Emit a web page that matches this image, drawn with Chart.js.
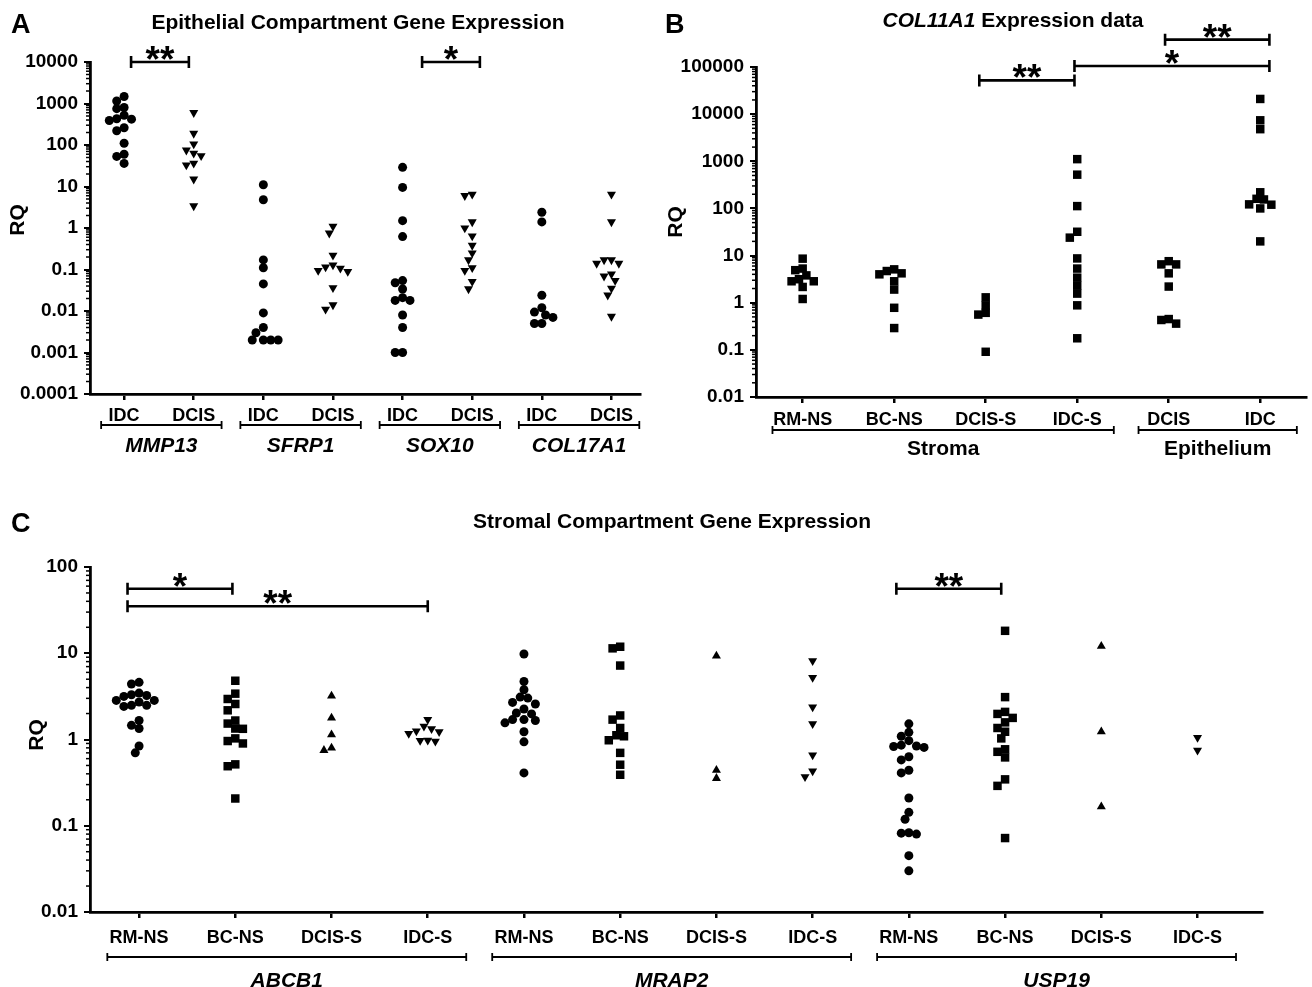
<!DOCTYPE html>
<html lang="en">
<head>
<meta charset="UTF-8">
<title>Gene expression RQ</title>
<script src="https://cdn.jsdelivr.net/npm/chart.js"></script>
<style>
  body { margin: 0; background: #fff; }
  canvas { position: absolute; }
</style>
</head>
<body>
<canvas id="chartA" style="left:0;top:0" width="650" height="490"></canvas>
<canvas id="chartB" style="left:650px;top:0" width="662" height="490"></canvas>
<canvas id="chartC" style="left:0;top:495px" width="1312" height="492"></canvas>
<script>
  // ---- panel A: epithelial compartment ----
  const aCats = ['IDC', 'DCIS', 'IDC', 'DCIS', 'IDC', 'DCIS', 'IDC', 'DCIS'];
  const aGenes = ['MMP13', 'SFRP1', 'SOX10', 'COL17A1'];
  const aYTicks = ['0.0001', '0.001', '0.01', '0.1', '1', '10', '100', '1000', '10000'];
  const mmp13Idc = [1470, 1150, 800, 750, 520, 430, 420, 390, 260, 220, 110, 60, 53, 36];
  const mmp13Dcis = [600, 190, 105, 75, 63, 55, 36, 33, 15, 3.4];
  const sfrp1Idc = [11, 4.8, 0.17, 0.11, 0.045, 0.009, 0.004, 0.003, 0.002, 0.002, 0.002, 0.002];
  const sfrp1Dcis = [1.1, 0.75, 0.22, 0.128, 0.114, 0.107, 0.094, 0.089, 0.036, 0.014, 0.011];
  const sox10Idc = [29, 9.5, 1.5, 0.62, 0.054, 0.048, 0.034, 0.021, 0.018, 0.018, 0.008, 0.004, 0.001, 0.001];
  const sox10Dcis = [6.5, 6.0, 1.4, 1.0, 0.64, 0.38, 0.25, 0.17, 0.11, 0.094, 0.051, 0.034];
  const col17Idc = [2.4, 1.4, 0.024, 0.012, 0.0094, 0.008, 0.007, 0.005, 0.005];
  const col17Dcis = [6.5, 1.4, 0.17, 0.17, 0.14, 0.14, 0.078, 0.069, 0.054, 0.035, 0.024, 0.0074];
  const aSig = [[0.1, 0.93, 1e4, '**'], [4.28, 5.11, 1e4, '*']];

  // ---- panel B: COL11A1 ----
  const bCats = ['RM-NS', 'BC-NS', 'DCIS-S', 'IDC-S', 'DCIS', 'IDC'];
  const bGroups = ['Stroma', 'Epithelium'];
  const bYTicks = ['0.01', '0.1', '1', '10', '100', '1000', '10000', '100000'];
  const bRmNs = [8.6, 5.3, 4.9, 3.8, 3.15, 2.85, 2.85, 2.16, 1.2];
  const bBcNs = [5.1, 4.7, 4.2, 4.0, 2.85, 1.9, 0.78, 0.29];
  const bDcisS = [1.3, 0.88, 0.61, 0.56, 0.091];
  const bIdcS = [1110, 520, 112, 32, 24, 8.7, 5.3, 3.4, 2.3, 1.56, 0.88, 0.176];
  const bDcisE = [7.6, 6.5, 6.5, 4.2, 2.2, 0.45, 0.43, 0.36];
  const bIdcE = [21000, 7400, 4800, 220, 160, 155, 122, 120, 100, 20];
  const bSig = [[1.93, 2.97, 5.2e4, '**'], [2.97, 5.1, 1.05e5, '*'], [3.96, 5.1, 3.8e5, '**']];

  // ---- panel C: stromal compartment ----
  const cCats = ['RM-NS', 'BC-NS', 'DCIS-S', 'IDC-S', 'RM-NS', 'BC-NS', 'DCIS-S', 'IDC-S', 'RM-NS', 'BC-NS', 'DCIS-S', 'IDC-S'];
  const cGenes = ['ABCB1', 'MRAP2', 'USP19'];
  const cYTicks = ['0.01', '0.1', '1', '10', '100'];
  const abcb1Rm = [4.6, 4.4, 3.45, 3.3, 3.24, 3.16, 2.84, 2.84, 2.72, 2.49, 2.49, 2.42, 1.66, 1.46, 1.34, 0.84, 0.7];
  const abcb1Bc = [4.8, 3.4, 2.95, 2.58, 2.18, 1.66, 1.53, 1.34, 1.33, 1.03, 0.96, 0.9, 0.515, 0.49, 0.207];
  const abcb1Dcis = [3.2, 1.78, 1.14, 0.8, 0.75];
  const abcb1Idc = [1.7, 1.42, 1.33, 1.25, 1.23, 1.17, 0.98, 0.97, 0.95];
  const mrap2Rm = [9.8, 4.7, 3.77, 3.1, 3.02, 2.69, 2.58, 2.26, 2.03, 1.98, 1.7, 1.7, 1.66, 1.56, 1.23, 0.94, 0.41];
  const mrap2Bc = [11.9, 11.4, 7.2, 1.9, 1.7, 1.36, 1.12, 1.09, 0.98, 0.7, 0.51, 0.39];
  const mrap2Dcis = [9.3, 0.44, 0.355];
  const mrap2Idc = [8.15, 5.23, 2.38, 1.52, 0.66, 0.43, 0.37];
  const usp19Rm = [1.52, 1.21, 1.09, 0.97, 0.86, 0.84, 0.83, 0.81, 0.63, 0.58, 0.44, 0.41, 0.21, 0.143, 0.119, 0.083, 0.082, 0.08, 0.045, 0.03];
  const usp19Bc = [18.2, 3.1, 2.09, 1.98, 1.78, 1.58, 1.36, 1.23, 1.03, 0.77, 0.72, 0.62, 0.345, 0.29, 0.072];
  const usp19Dcis = [12.1, 1.23, 0.166];
  const usp19Idc = [1.05, 0.75];
  const cSig = [[-0.12, 0.97, 56, '*'], [-0.12, 3.0, 35, '**'], [7.87, 8.96, 56, '**']];

  const FONT = "'Liberation Sans', Arial, sans-serif";
  Chart.defaults.color = '#000';
  Chart.defaults.font.family = FONT;

  const circle = {pointStyle: 'circle', pointRadius: 4.5, rotation: 0};
  const square = {pointStyle: 'rect', pointRadius: 6, rotation: 0};
  const triUp = {pointStyle: 'triangle', pointRadius: 5.2, rotation: 0};
  const triDown = {pointStyle: 'triangle', pointRadius: 5.2, rotation: 180};

  // minor ticks, brackets, stars and labels
  const decoPlugin = {
    id: 'deco',
    afterDraw(chart, args, o) {
      const ctx = chart.ctx, xs = chart.scales.x, ys = chart.scales.y, a = chart.chartArea;
      ctx.save();
      ctx.fillStyle = '#000';
      ctx.strokeStyle = '#000';
      ctx.lineWidth = 1.5;
      for (let d = ys.min; d < ys.max * 0.999; d *= 10) {
        for (let m = 2; m <= 9; m++) {
          const py = ys.getPixelForValue(d * m);
          ctx.beginPath(); ctx.moveTo(a.left - 4, py); ctx.lineTo(a.left, py); ctx.stroke();
        }
      }
      // groups under the x axis
      ctx.lineWidth = 1.8;
      ctx.textAlign = 'center';
      ctx.textBaseline = 'middle';
      o.groups.forEach(g => {
        const x1 = xs.getPixelForValue(g[1] - 0.33), x2 = xs.getPixelForValue(g[2] + 0.4);
        ctx.beginPath();
        ctx.moveTo(x1, o.groupY); ctx.lineTo(x2, o.groupY);
        ctx.moveTo(x1, o.groupY - 4); ctx.lineTo(x1, o.groupY + 4);
        ctx.moveTo(x2, o.groupY - 4); ctx.lineTo(x2, o.groupY + 4);
        ctx.stroke();
        ctx.font = (o.groupItalic ? 'italic ' : '') + 'bold 21px ' + FONT;
        ctx.fillText(g[0], (x1 + x2) / 2, o.groupLabelY);
      });
      // significance bars
      ctx.lineWidth = 2.6;
      o.sig.forEach(s => {
        const x1 = xs.getPixelForValue(s[0]), x2 = xs.getPixelForValue(s[1]);
        const py = ys.getPixelForValue(s[2]);
        ctx.beginPath();
        ctx.moveTo(x1, py); ctx.lineTo(x2, py);
        ctx.moveTo(x1, py - 6); ctx.lineTo(x1, py + 6);
        ctx.moveTo(x2, py - 6); ctx.lineTo(x2, py + 6);
        ctx.stroke();
        ctx.font = 'bold 37px ' + FONT;
        ctx.textBaseline = 'alphabetic';
        ctx.fillText(s[3], (x1 + x2) / 2, py + 10);
      });
      // panel letter
      ctx.textAlign = 'left';
      ctx.textBaseline = 'alphabetic';
      ctx.font = 'bold 27px ' + FONT;
      ctx.fillText(o.letter, o.letterX, o.letterY);
      // title (mixed italic parts)
      let total = 0;
      o.title.forEach(p => { ctx.font = (p[1] ? 'italic ' : '') + 'bold 21px ' + FONT; total += ctx.measureText(p[0]).width; });
      let tx = o.titleX - total / 2;
      o.title.forEach(p => {
        ctx.font = (p[1] ? 'italic ' : '') + 'bold 21px ' + FONT;
        ctx.fillText(p[0], tx, o.titleY);
        tx += ctx.measureText(p[0]).width;
      });
      // RQ
      ctx.translate(o.rqX, o.rqY);
      ctx.rotate(-Math.PI / 2);
      ctx.textAlign = 'center';
      ctx.textBaseline = 'middle';
      ctx.font = 'bold 21px ' + FONT;
      ctx.fillText('RQ', 0, 0);
      ctx.restore();
    }
  };

  function makePanel(p) {
    const datasets = p.sets.map((s, i) => Object.assign({
      data: s[0].map(v => ({x: i, y: v})),
      cat: i,
      backgroundColor: '#000',
      borderWidth: 0,
      pointHoverRadius: 5,
      showLine: false,
      clip: false
    }, s[1]));
    const chart = new Chart(document.getElementById(p.id), {
      type: 'scatter',
      data: {datasets},
      plugins: [decoPlugin],
      options: {
        responsive: false,
        animation: false,
        layout: {padding: {left: 0, top: p.area.top, right: p.w - p.area.right, bottom: 0}},
        plugins: {legend: {display: false}, tooltip: {enabled: false}, deco: p.deco},
        scales: {
          x: {
            type: 'linear', min: p.xMin, max: p.xMax,
            afterBuildTicks: sc => { sc.ticks = p.cats.map((c, i) => ({value: i})); },
            afterFit: sc => { sc.height = p.h - p.area.bottom; },
            ticks: {autoSkip: false, maxRotation: 0, padding: p.xPad, font: {size: 18, weight: 'bold'},
                    callback: (v, i) => p.cats[i]},
            grid: {display: true, drawOnChartArea: false, drawTicks: true, tickLength: 6, lineWidth: 2.5, color: '#000'},
            border: {display: true, color: '#000', width: 2.8}
          },
          y: {
            type: 'logarithmic', min: p.yMin, max: p.yMax,
            afterBuildTicks: sc => { sc.ticks = p.yTicks.map(t => ({value: Number(t), major: true})); },
            afterFit: sc => { sc.width = p.area.left; },
            ticks: {autoSkip: false, padding: 6, font: {size: 19, weight: 'bold'},
                    callback: (v, i) => p.yTicks[i]},
            grid: {display: true, drawOnChartArea: false, drawTicks: true, tickLength: 6, lineWidth: 2, color: '#000'},
            border: {display: true, color: '#000', width: 2.8}
          }
        }
      }
    });
    // spread points sideways like a dot plot (pixel space)
    const xs = chart.scales.x, ys = chart.scales.y;
    const unit = xs.getPixelForValue(1) - xs.getPixelForValue(0);
    chart.data.datasets.forEach(ds => {
      const pts = ds.data.map(pt => ({pt, py: ys.getPixelForValue(pt.y), dx: 0})).sort((u, w) => u.py - w.py);
      const placed = [];
      pts.forEach(q => {
        for (let k = 0; k < 60; k++) {
          const dx = (k % 2 ? -1 : 1) * Math.ceil(k / 2) * p.gap / 2;
          if (placed.every(r => Math.hypot(r.dx - dx, r.py - q.py) >= p.gap)) { q.dx = dx; break; }
        }
        placed.push(q);
        q.pt.x = ds.cat + q.dx / unit;
      });
    });
    chart.update('none');
    return chart;
  }

  makePanel({
    id: 'chartA', w: 650, h: 490,
    area: {left: 90, top: 62, right: 640, bottom: 394},
    xMin: -0.49, xMax: 7.41, yMin: 1e-4, yMax: 1e4, xPad: 5, gap: 7.4,
    cats: aCats, yTicks: aYTicks,
    sets: [[mmp13Idc, circle], [mmp13Dcis, triDown], [sfrp1Idc, circle], [sfrp1Dcis, triDown],
           [sox10Idc, circle], [sox10Dcis, triDown], [col17Idc, circle], [col17Dcis, triDown]],
    deco: {
      letter: 'A', letterX: 11, letterY: 33,
      title: [['Epithelial Compartment Gene Expression', false]], titleX: 358, titleY: 29,
      rqX: 18, rqY: 220,
      groups: aGenes.map((g, i) => [g, 2 * i, 2 * i + 1]), groupItalic: true, groupY: 425, groupLabelY: 446,
      sig: aSig
    }
  });

  makePanel({
    id: 'chartB', w: 662, h: 490,
    area: {left: 106, top: 67, right: 660, bottom: 397},
    xMin: -0.51, xMax: 5.5, yMin: 0.01, yMax: 1e5, xPad: 6, gap: 7.4,
    cats: bCats, yTicks: bYTicks,
    sets: [[bRmNs, square], [bBcNs, square], [bDcisS, square], [bIdcS, square], [bDcisE, square], [bIdcE, square]],
    deco: {
      letter: 'B', letterX: 15, letterY: 33,
      title: [['COL11A1', true], [' Expression data', false]], titleX: 363, titleY: 27,
      rqX: 26, rqY: 222,
      groups: [[bGroups[0], 0, 3], [bGroups[1], 4, 5]], groupItalic: false, groupY: 430, groupLabelY: 449,
      sig: bSig
    }
  });

  makePanel({
    id: 'chartC', w: 1312, h: 492,
    area: {left: 90, top: 72, right: 1262, bottom: 417},
    xMin: -0.51, xMax: 11.67, yMin: 0.01, yMax: 100, xPad: 9, gap: 7.6,
    cats: cCats, yTicks: cYTicks,
    sets: [[abcb1Rm, circle], [abcb1Bc, square], [abcb1Dcis, triUp], [abcb1Idc, triDown],
           [mrap2Rm, circle], [mrap2Bc, square], [mrap2Dcis, triUp], [mrap2Idc, triDown],
           [usp19Rm, circle], [usp19Bc, square], [usp19Dcis, triUp], [usp19Idc, triDown]],
    deco: {
      letter: 'C', letterX: 11, letterY: 37,
      title: [['Stromal Compartment Gene Expression', false]], titleX: 672, titleY: 33,
      rqX: 37, rqY: 240,
      groups: cGenes.map((g, i) => [g, 4 * i, 4 * i + 3]), groupItalic: true, groupY: 462, groupLabelY: 486,
      sig: cSig
    }
  });
</script>
</body>
</html>
